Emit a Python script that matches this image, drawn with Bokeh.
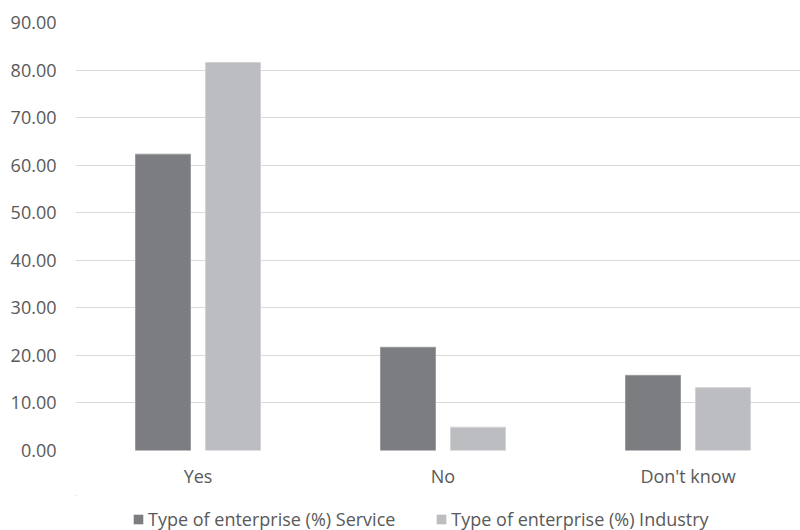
from bokeh.plotting import figure
from bokeh.layouts import column
from bokeh.models import (Range1d, FixedTicker, Legend, LegendItem,
                          NumeralTickFormatter, ColumnDataSource)
from bokeh.embed import file_html
from bokeh.resources import INLINE
from bokeh.transform import dodge

categories = ["Yes", "No", "Don't know"]
service = [62.3, 21.7, 15.8]
industry = [81.6, 4.9, 13.2]
series_names = ["Type of enterprise (%) Service", "Type of enterprise (%) Industry"]
y_ticks = [0, 10, 20, 30, 40, 50, 60, 70, 80, 90]
colors = ["#7c7d81", "#bcbdc0"]
edge_colors = ["#9a9b9e", "#d2d3d5"]

FONT = "Open Sans"
TXT = "#595959"
FS = "18px"

xs = [i + 0.5 for i in range(len(categories))]
src = ColumnDataSource(dict(x=xs, service=service, industry=industry))

p = figure(width=800, height=495, output_backend="svg", toolbar_location=None,
           x_range=Range1d(0, 725 / 245), y_range=Range1d(0, 90),
           min_border_left=75, min_border_right=0, min_border_top=22,
           min_border_bottom=45)
p.outline_line_color = None

bw = 0.2245
off = 0.1429
r1 = p.vbar(x=dodge("x", -off, range=p.x_range), top="service", width=bw,
            source=src, fill_color=colors[0], line_color=edge_colors[0], line_width=1)
r2 = p.vbar(x=dodge("x", off, range=p.x_range), top="industry", width=bw,
            source=src, fill_color=colors[1], line_color=edge_colors[1], line_width=1)

p.xgrid.grid_line_color = None
p.ygrid.grid_line_color = "#d9d9d9"
p.ygrid.grid_line_width = 1
p.ygrid.ticker = FixedTicker(ticks=y_ticks)

p.yaxis.ticker = FixedTicker(ticks=y_ticks)
p.yaxis.formatter = NumeralTickFormatter(format="0.00")
p.yaxis.axis_line_color = None
p.yaxis.major_tick_line_color = None
p.yaxis.minor_tick_line_color = None
p.yaxis.major_tick_out = 0
p.yaxis.major_tick_in = 0
p.yaxis.major_label_standoff = 19
p.yaxis.major_label_text_font = FONT
p.yaxis.major_label_text_font_size = FS
p.yaxis.major_label_text_color = TXT

p.xaxis.ticker = FixedTicker(ticks=xs)
p.xaxis.major_label_overrides = {x: c for x, c in zip(xs, categories)}
p.xaxis.axis_line_color = None
p.xaxis.major_tick_line_color = None
p.xaxis.minor_tick_line_color = None
p.xaxis.major_label_standoff = 7
p.xaxis.major_label_text_font = FONT
p.xaxis.major_label_text_font_size = FS
p.xaxis.major_label_text_color = TXT

# legend strip below the chart (its frame is aligned with the chart frame)
lf = figure(width=800, height=35, output_backend="svg", toolbar_location=None,
            x_range=Range1d(100, 101), y_range=Range1d(-2, -1),
            x_axis_type=None, y_axis_type=None,
            min_border_left=75, min_border_right=0, min_border_top=0,
            min_border_bottom=0)
lf.outline_line_color = None
lf.grid.grid_line_color = None
# zero-size stubs (outside the strip's ranges, invisible) carrying legend colours
l1 = lf.vbar(x="x", top="service", bottom="service", width=0, source=src,
             fill_color=colors[0], line_color=None)
l2 = lf.vbar(x="x", top="industry", bottom="industry", width=0, source=src,
             fill_color=colors[1], line_color=None)

legend = Legend(items=[LegendItem(label=series_names[0], renderers=[l1]),
                       LegendItem(label=series_names[1], renderers=[l2])],
                orientation="horizontal", location=(57, -1))
legend.glyph_width = 12
legend.glyph_height = 12
legend.label_height = 12
legend.label_standoff = 4
legend.spacing = 40
legend.padding = 0
legend.margin = 0
legend.border_line_color = None
legend.background_fill_alpha = 0
legend.label_text_font = FONT
legend.label_text_font_size = FS
legend.label_text_color = TXT
lf.add_layout(legend, "center")

layout = column(p, lf, spacing=0)
open("out.html", "w").write(file_html(layout, INLINE))
